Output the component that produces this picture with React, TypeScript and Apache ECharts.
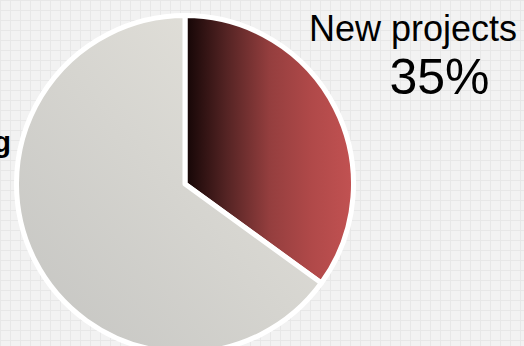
import React, { useEffect, useRef } from "react";
import * as echarts from "echarts";

const categories = ["New projects", "Existing"];
const values = [35, 65];

const FONT = "'Liberation Sans', Arial, sans-serif";

export default function App() {
  const ref = useRef<HTMLDivElement>(null);
  useEffect(() => {
    document.body.style.margin = "0";
    const chart = echarts.init(ref.current!, null, { renderer: "svg" });
    const redFill = new echarts.graphic.LinearGradient(0, 0, 1, 0, [
      { offset: 0, color: "#130505" },
      { offset: 0.25, color: "#552424" },
      { offset: 0.5, color: "#943e3e" },
      { offset: 0.75, color: "#b04949" },
      { offset: 1, color: "#c25252" },
    ]);
    const greyFill = new echarts.graphic.LinearGradient(1, 0, 0, 1, [
      { offset: 0, color: "#e7e5de" },
      { offset: 1, color: "#c4c4c1" },
    ]);
    chart.setOption({
      animation: false,
      series: [
        {
          type: "pie",
          center: [185, 184],
          radius: 168.5,
          startAngle: 90,
          clockwise: true,
          silent: true,
          itemStyle: { borderColor: "#ffffff", borderWidth: 5 },
          labelLine: { show: false },
          label: { position: "inside", overflow: "none" },
          data: [
            {
              name: categories[0],
              value: values[0],
              itemStyle: { color: redFill },
              label: {
                show: true,
                position: "inside",
                formatter: "{a|{b}}\n{b|{d}%}",
                rich: {
                  a: { fontSize: 36, lineHeight: 44, color: "#000", fontFamily: FONT },
                  b: { fontSize: 50, lineHeight: 54, color: "#000", fontFamily: FONT, padding: [0, 0, 0, 53] },
                },
              },
            },
            {
              name: categories[1],
              value: values[1],
              itemStyle: { color: greyFill },
              label: {
                show: true,
                position: "inside",
                formatter: "{b}",
                fontSize: 30,
                fontWeight: "bold",
                color: "#000",
                fontFamily: FONT,
              },
            },
          ],
          labelLayout: (p: any) =>
            p.dataIndex === 0
              ? { x: 413, y: 6, align: "center", verticalAlign: "top" }
              : { x: 11, y: 141, align: "right", verticalAlign: "middle" },
        },
      ],
    });
    return () => chart.dispose();
  }, []);
  return (
    <div
      style={{
        position: "fixed",
        left: 0,
        top: 0,
        width: 524,
        height: 346,
        backgroundColor: "#f2f2f2",
        backgroundImage:
          "linear-gradient(to right, #e7e7e7 1px, transparent 1px), linear-gradient(to bottom, #e7e7e7 1px, transparent 1px)",
        backgroundSize: "10px 10px",
      }}
    >
      <div ref={ref} style={{ width: 524, height: 346 }} />
    </div>
  );
}
